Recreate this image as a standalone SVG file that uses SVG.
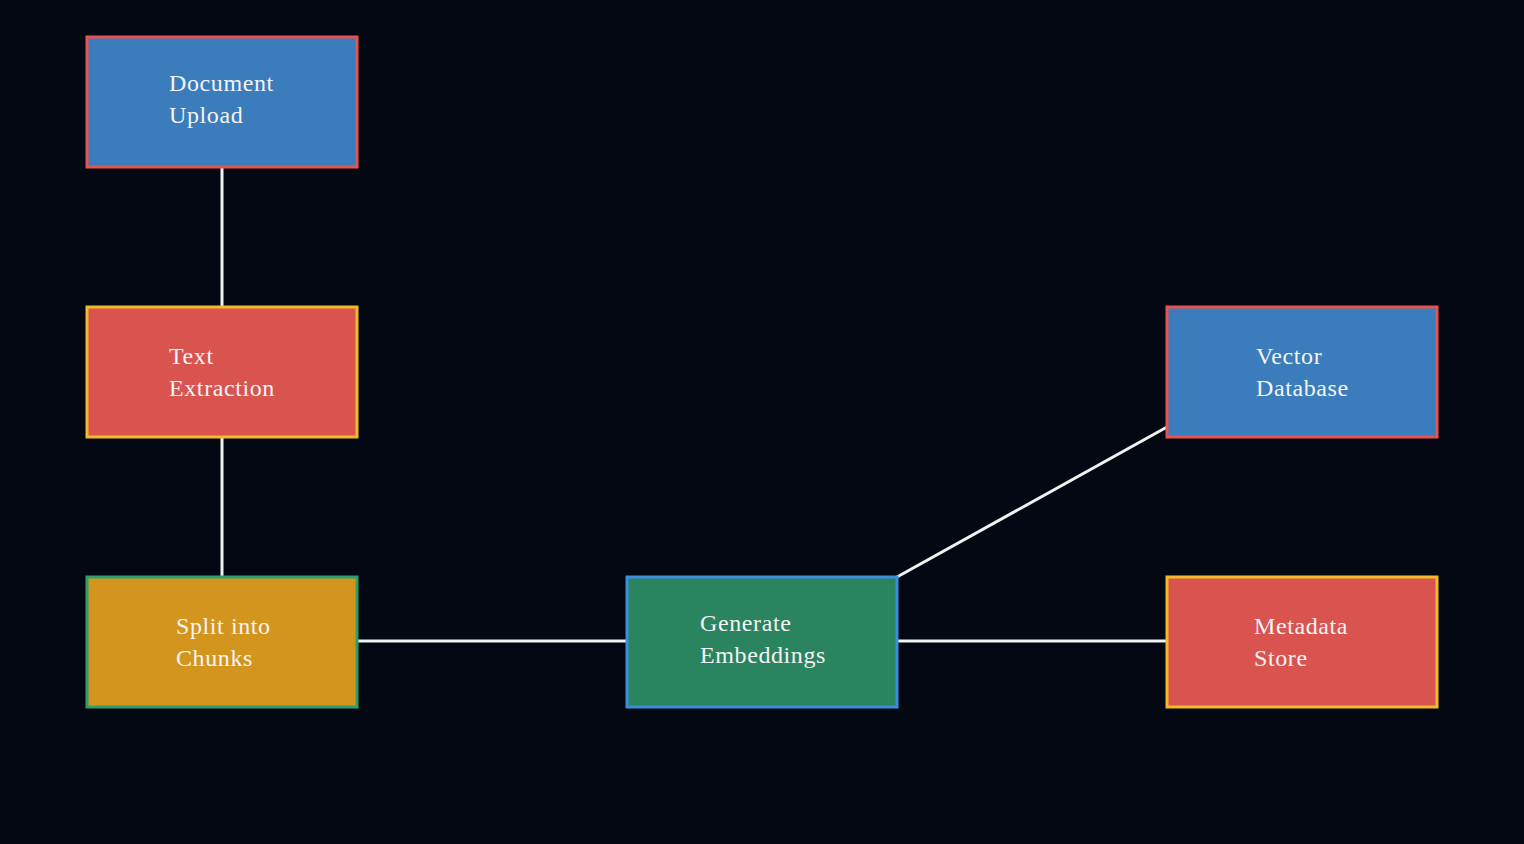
<svg xmlns="http://www.w3.org/2000/svg" width="1524" height="844" viewBox="0 0 1524 844">
<style>
.bg{fill:#030812}
.n rect{stroke-width:3}
.blue{fill:#3a7cbc;stroke:#e8524f}
.red{fill:#d9534f;stroke:#f2b92a}
.orange{fill:#d4951e;stroke:#2e9e6b}
.green{fill:#2a845f;stroke:#3c8ddc}
text{font-family:"Liberation Serif","DejaVu Serif",serif;font-size:24px;letter-spacing:0.6px;fill:#f4f4f4}
.c line{stroke:#f2f2f2;stroke-width:3}
</style>
<rect class="bg" x="0" y="0" width="1524" height="844"/>
<g class="c" id="connectors">
<line x1="222" y1="167" x2="222" y2="307"/>
<line x1="222" y1="437" x2="222" y2="577"/>
<line x1="357" y1="641" x2="627" y2="641"/>
<line x1="897" y1="641" x2="1167" y2="641"/>
<line x1="897" y1="577" x2="1167" y2="427"/>
</g>
<g class="n" id="document-upload">
<rect class="blue" x="87" y="37" width="270" height="130"/>
<text x="169" y="91">Document</text>
<text x="169" y="123">Upload</text>
</g>
<g class="n" id="text-extraction">
<rect class="red" x="87" y="307" width="270" height="130"/>
<text x="169" y="364">Text</text>
<text x="169" y="396">Extraction</text>
</g>
<g class="n" id="split-chunks">
<rect class="orange" x="87" y="577" width="270" height="130"/>
<text x="176" y="634">Split into</text>
<text x="176" y="666">Chunks</text>
</g>
<g class="n" id="generate-embeddings">
<rect class="green" x="627" y="577" width="270" height="130"/>
<text x="700" y="631">Generate</text>
<text x="700" y="663">Embeddings</text>
</g>
<g class="n" id="vector-database">
<rect class="blue" x="1167" y="307" width="270" height="130"/>
<text x="1256" y="364">Vector</text>
<text x="1256" y="396">Database</text>
</g>
<g class="n" id="metadata-store">
<rect class="red" x="1167" y="577" width="270" height="130"/>
<text x="1254" y="634">Metadata</text>
<text x="1254" y="666">Store</text>
</g>
</svg>
